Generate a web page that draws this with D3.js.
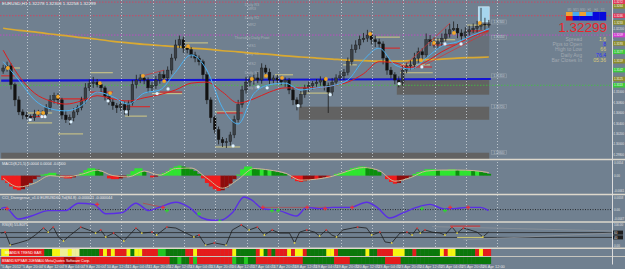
<!DOCTYPE html>
<html>
<head>
<meta charset="utf-8">
<script src="https://cdn.jsdelivr.net/npm/d3@7/dist/d3.min.js"></script>
<style>
  body { margin: 0; background: #708090; }
  svg { display: block; font-family: "Liberation Sans", Arial, sans-serif; }
</style>
</head>
<body>
<svg id="chart" width="625" height="269"></svg>
<script>
// EURUSD H1 in 3-hour steps
const timeLabels = ["5 Apr 2012", "5 Apr 20:00", "6 Apr 12:00", "9 Apr 04:00", "9 Apr 20:00", "10 Apr 12:00",
    "11 Apr 04:00", "11 Apr 20:00", "12 Apr 12:00", "13 Apr 04:00", "13 Apr 20:00", "16 Apr 12:00",
    "17 Apr 04:00", "17 Apr 20:00", "18 Apr 12:00", "19 Apr 04:00", "19 Apr 20:00", "20 Apr 12:00",
    "23 Apr 04:00", "23 Apr 20:00", "24 Apr 12:00", "25 Apr 04:00", "25 Apr 20:00", "26 Apr 12:00"];

const firstOpen = 1.3140;
const closes = [
    1.3146, 1.3150, 1.3114, 1.3085, 1.3062, 1.3056, 1.3053, 1.3051, 1.3058, 1.3060,
    1.3058, 1.3070, 1.3085, 1.3093, 1.3085, 1.3056, 1.3047, 1.3051, 1.3062, 1.3070,
    1.3085, 1.3108, 1.3116, 1.3119, 1.3114, 1.3108, 1.3091, 1.3081, 1.3074, 1.3070,
    1.3076, 1.3066, 1.3079, 1.3114, 1.3123, 1.3127, 1.3123, 1.3108, 1.3112, 1.3123,
    1.3133, 1.3127, 1.3142, 1.3165, 1.3190, 1.3200, 1.3184, 1.3181, 1.3171, 1.3165,
    1.3158, 1.3133, 1.3085, 1.3051, 1.3028, 1.3009, 1.3003, 1.3005, 1.3018, 1.3047,
    1.3076, 1.3104, 1.3119, 1.3123, 1.3127, 1.3123, 1.3146, 1.3138, 1.3123, 1.3127,
    1.3123, 1.3119, 1.3123, 1.3104, 1.3085, 1.3077, 1.3095, 1.3108, 1.3112, 1.3116,
    1.3119, 1.3123, 1.3112, 1.3100, 1.3119, 1.3127, 1.3131, 1.3138, 1.3158, 1.3181,
    1.3190, 1.3200, 1.3203, 1.3209, 1.3200, 1.3196, 1.3192, 1.3165, 1.3142, 1.3133,
    1.3123, 1.3119, 1.3142, 1.3150, 1.3152, 1.3165, 1.3177, 1.3171, 1.3200, 1.3196,
    1.3192, 1.3196, 1.3203, 1.3211, 1.3219, 1.3222, 1.3213, 1.3207, 1.3215, 1.3219,
    1.3222, 1.3226, 1.3230, 1.3228, 1.32299];
// wicks in pips above / below the body
const upWick = [
    6, 8, 5, 4, 7, 5, 6, 4, 8, 6, 5, 7, 9, 6, 5, 4, 8, 6, 7, 5,
    6, 9, 8, 10, 6, 5, 4, 7, 6, 5, 8, 6, 5, 9, 10, 7, 6, 5, 7, 8,
    6, 9, 7, 8, 10, 8, 6, 7, 5, 6, 5, 4, 6, 5, 4, 6, 5, 7, 6, 8,
    9, 8, 10, 7, 6, 11, 9, 6, 7, 5, 6, 8, 5, 4, 6, 5, 7, 6, 8, 5,
    6, 7, 5, 6, 8, 7, 9, 6, 8, 10, 9, 8, 10, 10, 7, 8, 6, 5, 4, 6,
    5, 7, 8, 6, 9, 10, 8, 7, 12, 9, 8, 7, 9, 10, 11, 13, 8, 7, 9, 8,
    9, 10, 31, 12, 8];
const dnWick = [
    5, 7, 9, 12, 6, 8, 5, 7, 6, 5, 8, 6, 5, 7, 9, 8, 6, 10, 7, 6,
    5, 7, 6, 8, 5, 9, 7, 6, 8, 10, 6, 9, 12, 5, 7, 6, 8, 9, 7, 6,
    7, 5, 6, 8, 5, 6, 9, 7, 6, 8, 7, 9, 8, 10, 7, 9, 8, 10, 7, 6,
    5, 6, 7, 8, 9, 6, 7, 10, 8, 6, 7, 6, 9, 8, 10, 12, 7, 6, 8, 7,
    6, 7, 9, 40, 7, 6, 5, 8, 6, 7, 6, 8, 5, 7, 9, 10, 8, 12, 9, 7,
    8, 10, 7, 6, 8, 7, 9, 10, 6, 8, 7, 9, 8, 6, 7, 5, 10, 8, 6, 7,
    6, 8, 7, 9, 5];

// moving averages, one value every 4 bars
const maGold = [1.3222, 1.3218, 1.3215, 1.3211, 1.3208, 1.3204, 1.3201, 1.3197, 1.3194, 1.3191, 1.3189, 1.3187,
    1.3184, 1.3182, 1.3179, 1.3177, 1.3174, 1.3172, 1.3169, 1.3167, 1.3165, 1.3163, 1.3161, 1.3160,
    1.3159, 1.3159, 1.3160, 1.3162, 1.3163, 1.3165, 1.3166, 1.3167];
const maRed = [1.3180, 1.3131, 1.3098, 1.3083, 1.3077, 1.3083, 1.3093, 1.3087, 1.3083, 1.3089, 1.3095, 1.3104,
    1.3117, 1.3119, 1.3100, 1.3079, 1.3087, 1.3100, 1.3108, 1.3108, 1.3108, 1.3112, 1.3119, 1.3135,
    1.3158, 1.3156, 1.3146, 1.3158, 1.3177, 1.3192, 1.3207, 1.3217];
const maBlue = [1.3158, 1.3123, 1.3085, 1.3068, 1.3064, 1.3074, 1.3100, 1.3091, 1.3077, 1.3098, 1.3104, 1.3138,
    1.3171, 1.3142, 1.3070, 1.3039, 1.3097, 1.3114, 1.3117, 1.3104, 1.3108, 1.3112, 1.3123, 1.3161,
    1.3184, 1.3152, 1.3144, 1.3165, 1.3188, 1.3196, 1.3209, 1.3221];
const baseLine = [1.3122, 1.3125];

// daily pivots
const pivotNames = ["Daily R3", "MR3", "Daily R2", "MR2", "Thursday Daily Pivot", "MS1", "Daily S1", "MS2", "Daily S2", "MS3", "Daily S3"];
const pivotPrices = [1.3272, 1.3264, 1.3246, 1.3233, 1.3209, 1.3193, 1.3177, 1.3159, 1.3142, 1.3125, 1.3113];
const pivotKinds = ["r", "m", "r", "m", "p", "m", "s", "m", "s", "m", "s"];
const pivotDrawn = [1, 0, 1, 0, 1, 0, 0, 0, 0, 0, 1];

// supply / demand zones
const zoneStart = [0, 76, 101, 119.2];
const zoneTop = [1.2984, 1.3072, 1.3123, 1.3219];
const zoneBottom = [1.2972, 1.3047, 1.3095, 1.3165];
const zoneLabels = [1.3234, 1.3205, 1.3131, 1.3072, 1.2984];

// short support / resistance segments
const segFrom = [1.7, 0, 22.7, 46.4, 6.8, 6.8, 7.4, 14.5, 14.5, 22.7, 31.1, 31.6, 38.5, 40.5, 54.6, 55.1, 54.6, 76.3, 69.9, 87.3, 95.4, 96.7, 101.8, 101.8, 110, 110, 119, 119, 101.8];
const segTo = [4.8, 3.5, 28.5, 52.8, 13, 13, 11.2, 22.7, 20.9, 28.5, 38, 37.2, 46.2, 46.2, 61, 61.7, 61, 84, 74.5, 90.8, 101.8, 101.8, 109.5, 110, 115.9, 115.9, 124.3, 124.3, 110.2];
const segPrice = [1.3146, 1.3131, 1.3137, 1.3194, 1.3060, 1.3041, 1.3053, 1.3087, 1.3020, 1.3100, 1.3072, 1.3054, 1.3097, 1.3100, 1.3062, 1.3060, 1.2995, 1.3098, 1.3133, 1.3152, 1.3205, 1.3184, 1.3152, 1.3148, 1.3200, 1.3190, 1.3228, 1.3217, 1.3137];
const segKind = "krkkkkrrkrrkkrkrkkkkkrkrkrkrk".split("");

const trendFrom = [36.2, 101.8, 108.2];
const trendFromPrice = [1.3131, 1.3142, 1.3152];
const trendTo = [41.6, 114.6, 124.3];
const trendToPrice = [1.3142, 1.3232, 1.3215];

const upFracBar = [1.7, 9.4, 10.7, 14.5, 25.2, 27.8, 36.2, 41.6, 47.7, 64, 67.6, 71.7, 82.9, 94.2, 107.2, 110.5, 115.6, 122.2];
const upFracPrice = [1.3146, 1.3060, 1.3060, 1.3091, 1.3117, 1.3098, 1.3131, 1.3121, 1.3188, 1.3125, 1.3131, 1.3127, 1.3125, 1.3211, 1.3161, 1.3194, 1.3213, 1.3232];
const dnFracBar = [7.4, 10.4, 11.2, 17.8, 27.3, 31.9, 39.8, 42.6, 59.2, 65.6, 67.9, 75.8, 84, 101.6, 107.4, 113.3, 117.4];
const dnFracPrice = [1.3047, 1.3053, 1.3053, 1.3043, 1.3083, 1.3062, 1.3097, 1.3106, 1.2997, 1.3110, 1.3108, 1.3074, 1.3095, 1.3116, 1.3148, 1.3192, 1.3192];

const priceTicks = [1.3260, 1.3240, 1.3220, 1.3200, 1.3180, 1.3160, 1.3140, 1.3120, 1.3100, 1.3080, 1.3060, 1.3040, 1.3020, 1.3000, 1.2980];

// MACD histogram (units of 0.0001) and its signal every 4 bars
const macd = [
    -18, -29, -43, -54, -58, -54, -43, -29, -14, -4, 4, 7, 11, 11, 4, -7, -11, -11, -7, 1,
    11, 22, 29, 29, 25, 14, 0, -11, -14, -14, -11, -7, 4, 18, 29, 29, 18, 0, -7, -4,
    4, 11, 18, 29, 36, 40, 36, 32, 25, 18, 7, -11, -29, -43, -54, -61, -58, -47, -32, -14,
    4, 25, 36, 36, 29, 25, 25, 22, 22, 18, 14, 11, 7, 0, -11, -22, -25, -22, -18, -14,
    -14, -11, -7, -7, 0, 7, 11, 14, 22, 29, 32, 36, 36, 32, 29, 22, 14, 0, -14, -25,
    -32, -29, -18, -11, -4, 7, 14, 18, 25, 25, 25, 22, 22, 22, 25, 25, 22, 22, 22, 22,
    18, 18, 14, 11, 7];
const macdSignal = [-10, -45, -30, 0, -5, 5, 22, 0, -5, 18, 2, 28, 30, -10, -50, -15, 28, 22, 10, -18, -14, -3, 18, 32, 20, -22, -8, 18, 22, 22, 20, 12];

// CCI divergence (units of 0.0001)
const cciBar = [0, 1, 4.4, 7.7, 12, 16.4, 19.7, 23.6, 26.7, 30.8, 34.4, 37.7, 40.3, 44.6, 48, 51.3, 53.8, 56, 59, 62,
    64, 66.7, 71, 75.4, 78, 81.3, 84.6, 89, 93.3, 96, 99.2, 102.6, 106, 109.5, 112.8, 115.4, 119, 122.3, 124.4];
const cciValue = [5, 11, -47, -32, -5, -5, 32, 26, -21, -16, 32, -5, 11, 37, 11, -42, -53, -53, -16, 63,
    47, 5, -5, -32, 11, 5, 11, 11, 37, 11, -42, -16, 11, 26, 5, 5, 11, 11, -5];
const cciRedBar = [1.5, 24.5, 41.3, 66.8, 78.1, 82.7, 89.6, 114.6, 119.2];
const cciRedValue = [5, 26, 11, 11, 11, 5, 11, 11, 11];
const cciGreenBar = [42.3, 50.5, 55.8, 69.1, 70.7, 107.4, 113.3];
const cciGreenValue = [-5, -21, -58, -5, -5, 5, -5];

// RSI
const rsiBar = [0, 1, 2.3, 4.4, 6.9, 8.7, 10.8, 12, 13.3, 14.6, 15.9, 17.7, 20.3, 22.3, 24.1, 25.4, 26.7, 28.7, 31.3, 34.4,
    35.9, 38.5, 39.7, 42.3, 44.6, 47.2, 49.2, 50.5, 51.3, 52.2, 54.4, 57.4, 59, 61.3, 63.3, 65.4, 67.2, 69.2, 71, 73.6,
    74.9, 76.2, 78, 80, 81.3, 83, 84.4, 85.6, 87.2, 89.7, 91, 93.3, 94.6, 96.7, 98, 99.7, 101.8, 103.6, 104.9, 106.2,
    107, 108.2, 110, 112, 113.3, 115.1, 116.4, 118, 119.7, 121.5, 123, 124.4];
const rsiValue = [58, 62, 8, 17, 29, 50, 79, 62, 83, 42, 25, 50, 83, 71, 58, 71, 42, 58, 25, 79,
    58, 62, 50, 83, 79, 58, 42, 50, 29, 8, 17, 8, 71, 92, 71, 83, 50, 71, 58, 58,
    17, 62, 71, 62, 46, 71, 50, 42, 71, 79, 83, 79, 50, 62, 21, 17, 58, 62, 50, 79,
    58, 71, 62, 58, 50, 83, 58, 79, 71, 62, 42, 62];
const rsiLevels = [60, 40];

// trend bars, one code per candle
const trendRow1 = ["YY", "RRRRRRRRR", "gg", "YYyyYyy", "ggggg", "R", "Y", "R", "Y", "RRR", "YgYY", "RRRR", "GG",
    "ggggg", "RR", "Y", "RRRRRRRRR", "Y", "ggggg", "R", "Y", "gRg", "RRR", "YRYYR", "ggggg", "YY", "R",
    "ggggg", "ggYgg", "RRRR", "YYY", "gg", "R", "gggggg", "YRY", "Y", "ggggg", "RYRR"].join("").split("");
const trendRow2 = ["RRRRRRRRRRRRRRRR", "rrr", "RRRRRRRRRRRRRRRRRRRRRRRR", "ggGgg", "RGR", "RRRRRRRR", "GggGgg",
    "RRRRRRRRRRRR", "gggggggg", "RRRR", "ggggggggg", "RRRR", "ggggggggggggggggggggggg"].join("").split("");

// info box
const infoLabels = ["Spread", "Pips to Open", "High to Low", "Daily Avg", "Bar Closes In"];
const infoValues = ["1.6", "8", "66", "76.4", "05:36"];
const tfNames = ["M5", "M15", "M30", "H1", "H4", "D1"];
const tfTrend = ["o", "l", "o", "l", "b", "b"];
const tfSignal = ["r", "b", "b", "b", "b", "b"];

// ---------------------------------------------------------------
const svg = d3.select('#chart');
const AX = 612;
const xBar = d3.scaleLinear().domain([0, 125]).range([1.2, 490.8]);
const xHour = d3.scaleLinear().domain([0, 375]).range([1.2, 490.8]);
const yP = d3.scaleLinear().domain([1.2972, 1.3276]).range([159, 0]);
const yMacd = d3.scaleLinear().domain([-61, 54]).range([191, 162]);
const yCci = d3.scaleLinear().domain([-47, 58]).range([219, 198]);
const yRsi = d3.scaleLinear().domain([0, 100]).range([247, 223]);
const bw = xBar(1) - xBar(0);
const f4 = d3.format('.4f'), f5 = d3.format('.5f');

svg.append('rect').attr('width', 625).attr('height', 269).attr('fill', '#708090');

svg.append('clipPath').attr('id', 'mainClip')
    .append('rect').attr('width', AX).attr('height', 159);
const main = svg.append('g').attr('clip-path', 'url(#mainClip)');

// zones
main.selectAll('rect.zone').data(zoneStart).join('rect')
    .attr('class', 'zone')
    .attr('x', d => xBar(d))
    .attr('width', d => xBar(124.6) - xBar(d))
    .attr('y', (d, i) => yP(zoneTop[i]))
    .attr('height', (d, i) => yP(zoneBottom[i]) - yP(zoneTop[i]))
    .attr('fill', (d, i) => i === 3 ? '#67707a' : '#626262');

// day separators
const daySeps = d3.range(16).map(k => 20 + 24 * k);
svg.append('g').selectAll('line').data(daySeps).join('line')
    .attr('x1', h => Math.round(xHour(h)) + 0.5).attr('x2', h => Math.round(xHour(h)) + 0.5)
    .attr('y1', 0).attr('y2', 248)
    .attr('stroke', '#cfd5dc').attr('stroke-width', 0.8).attr('stroke-dasharray', '1,2');

// pivot lines
const pivotColor = { r: '#e03a5a', m: '#8c8c2c', p: '#d040d0', s: '#3cc83c' };
main.selectAll('line.piv').data(pivotPrices.filter((p, i) => pivotDrawn[i])).join('line')
    .attr('x1', 0).attr('x2', AX)
    .attr('y1', p => yP(p)).attr('y2', p => yP(p))
    .attr('stroke', p => pivotColor[pivotKinds[pivotPrices.indexOf(p)]])
    .attr('stroke-width', 0.8).attr('stroke-dasharray', '1.5,1.5');
main.selectAll('text.piv').data(pivotNames).join('text')
    .attr('x', xBar(64)).attr('y', (d, i) => yP(pivotPrices[i]) + 3.6)
    .attr('text-anchor', 'middle').attr('font-size', 3.8).attr('fill', '#a3acb6')
    .text(d => d);

// current-bar box
main.append('rect')
    .attr('x', xBar(121.8)).attr('width', xBar(124.6) - xBar(121.8))
    .attr('y', yP(1.3263)).attr('height', yP(1.3234) - yP(1.3263))
    .attr('fill', '#a6d6ee').attr('stroke', '#d6ecf8').attr('stroke-width', 0.6);

// 200 MA and base line
const maLine = d3.line().x((d, k) => xBar(k * 4 + 0.5)).y(d => yP(d)).curve(d3.curveMonotoneX);
main.append('path').attr('d', maLine(maGold)).attr('fill', 'none').attr('stroke', '#d9a932').attr('stroke-width', 1.7);
main.append('path')
    .attr('d', d3.line().x((d, k) => xBar(k * 125)).y(d => yP(d))(baseLine))
    .attr('fill', 'none').attr('stroke', '#1414d2').attr('stroke-width', 2.2);

// S/R segments
main.selectAll('line.seg').data(segFrom).join('line')
    .attr('x1', d => xBar(d)).attr('x2', (d, i) => xBar(segTo[i]))
    .attr('y1', (d, i) => yP(segPrice[i])).attr('y2', (d, i) => yP(segPrice[i]))
    .attr('stroke', (d, i) => segKind[i] === 'r' ? '#d82828' : '#cbc486')
    .attr('stroke-width', 1.1);

// candles
const candles = closes.map((c, i) => {
    const o = i ? closes[i - 1] : firstOpen;
    return { i, o, c, h: Math.max(o, c) + upWick[i] * 1e-4, l: Math.min(o, c) - dnWick[i] * 1e-4 };
});
const cg = main.append('g');
cg.selectAll('line').data(candles).join('line')
    .attr('x1', d => xBar(d.i + 0.5)).attr('x2', d => xBar(d.i + 0.5))
    .attr('y1', d => yP(d.h)).attr('y2', d => yP(d.l))
    .attr('stroke', '#1c1c1c').attr('stroke-width', 0.8);
cg.selectAll('rect').data(candles).join('rect')
    .attr('x', d => xBar(d.i) + 0.6).attr('width', bw - 1.2)
    .attr('y', d => yP(Math.max(d.o, d.c)))
    .attr('height', d => Math.max(0.8, Math.abs(yP(d.o) - yP(d.c))))
    .attr('fill', d => d.c >= d.o ? '#3a4046' : '#121212')
    .attr('stroke', '#1c1c1c').attr('stroke-width', 0.4);

// moving averages
main.append('path').attr('d', maLine(maRed)).attr('fill', 'none').attr('stroke', '#dc1e1e').attr('stroke-width', 1);
main.append('path').attr('d', maLine(maBlue)).attr('fill', 'none').attr('stroke', '#4cb2f2').attr('stroke-width', 1);

// trend lines
main.selectAll('line.tr').data(trendFrom).join('line')
    .attr('x1', d => xBar(d)).attr('y1', (d, i) => yP(trendFromPrice[i]))
    .attr('x2', (d, i) => xBar(trendTo[i])).attr('y2', (d, i) => yP(trendToPrice[i]))
    .attr('stroke', '#d83030').attr('stroke-width', 0.7);

// fractals
main.selectAll('circle.up').data(upFracBar).join('circle')
    .attr('cx', d => xBar(d)).attr('cy', (d, i) => yP(upFracPrice[i])).attr('r', 1.9)
    .attr('fill', '#f2a628');
main.selectAll('circle.dn').data(dnFracBar).join('circle')
    .attr('cx', d => xBar(d)).attr('cy', (d, i) => yP(dnFracPrice[i])).attr('r', 1.6)
    .attr('fill', '#dff2ff');

// zone price tags
svg.selectAll('g.ztag').data(zoneLabels).join('g').attr('class', 'ztag')
    .each(function (p) {
        const g = d3.select(this);
        g.append('rect').attr('x', 491.5).attr('y', yP(p) - 2).attr('width', 15).attr('height', 4)
            .attr('fill', 'none').attr('stroke', '#9aa4ae').attr('stroke-width', 0.5);
        g.append('text').attr('x', 499).attr('y', yP(p) + 1.2).attr('text-anchor', 'middle')
            .attr('font-size', 3).attr('fill', '#c4ccd4').text(f5(p));
    });

// title
svg.append('text').attr('x', 2).attr('y', 5.2).attr('font-size', 4.4).attr('fill', '#f0f0f0')
    .text('EURUSD,H1  1.32278 1.32303 1.32258 1.32299');

// ---------------- lower panels ----------------
// MACD
const macdG = svg.append('g');
macdG.selectAll('rect').data(macd).join('rect')
    .attr('x', (d, i) => xBar(i)).attr('width', bw + 0.3)
    .attr('y', d => yMacd(Math.max(0, d)))
    .attr('height', d => Math.abs(yMacd(d) - yMacd(0)))
    .attr('fill', (d, i) => {
        const prev = i ? macd[i - 1] : d;
        if (d >= 0) return d >= prev ? '#2ee62e' : '#0b8f0b';
        return d <= prev ? '#f01c1c' : '#8e0c0c';
    });
macdG.append('path')
    .attr('d', d3.line().x((d, k) => xBar(k * 4 + 0.5)).y(d => yMacd(d)).curve(d3.curveMonotoneX)(macdSignal))
    .attr('fill', 'none').attr('stroke', '#cdb894').attr('stroke-width', 1);
svg.append('text').attr('x', 2).attr('y', 164.5).attr('font-size', 3.8).attr('fill', '#ececec')
    .text('MACD(8,21,5) 0.0004 0.0004 -0.0000');

// CCI divergence
svg.append('line').attr('x1', 0).attr('x2', AX).attr('y1', yCci(0)).attr('y2', yCci(0))
    .attr('stroke', '#151515').attr('stroke-width', 0.8).attr('stroke-dasharray', '1,1.5');
svg.append('line')
    .attr('x1', xBar(36.2)).attr('y1', yCci(32)).attr('x2', xBar(41.3)).attr('y2', yCci(11))
    .attr('stroke', '#d03030').attr('stroke-width', 0.6);
svg.append('line')
    .attr('x1', xBar(66.8)).attr('y1', yCci(11)).attr('x2', xBar(89.6)).attr('y2', yCci(11))
    .attr('stroke', '#d03030').attr('stroke-width', 0.5);
svg.append('path')
    .attr('d', d3.line().x(d => xBar(d)).y((d, i) => yCci(cciValue[i])).curve(d3.curveMonotoneX)(cciBar))
    .attr('fill', 'none').attr('stroke', '#5a2ee6').attr('stroke-width', 1.4);
const cross = (g, bars, vals, color) => g.selectAll(null).data(bars).join('path')
    .attr('d', (d, i) => {
        const x = xBar(d), y = yCci(vals[i]);
        return `M${x - 2},${y}H${x + 2}M${x},${y - 2}V${y + 2}`;
    })
    .attr('stroke', color).attr('stroke-width', 1.2);
cross(svg.append('g'), cciRedBar, cciRedValue, '#e8303c');
cross(svg.append('g'), cciGreenBar, cciGreenValue, '#2ed22e');
svg.append('text').attr('x', 2).attr('y', 199).attr('font-size', 3.8).attr('fill', '#ececec')
    .text('CCI_Divergence_v1.0 EURUSD60,Tol(84.8) -0.000011 -0.000044');

// RSI
svg.selectAll('line.rl').data(rsiLevels).join('line')
    .attr('x1', 0).attr('x2', AX).attr('y1', d => yRsi(d)).attr('y2', d => yRsi(d))
    .attr('stroke', '#262626').attr('stroke-width', 0.8);
svg.append('line').attr('x1', xBar(110)).attr('y1', yRsi(85)).attr('x2', AX).attr('y2', yRsi(67))
    .attr('stroke', '#8d939a').attr('stroke-width', 0.8);
svg.append('line').attr('x1', xBar(118)).attr('y1', yRsi(30)).attr('x2', AX).attr('y2', yRsi(58))
    .attr('stroke', '#8d939a').attr('stroke-width', 0.8);
svg.append('line').attr('x1', xBar(114.6)).attr('y1', yRsi(87)).attr('x2', xBar(122.3)).attr('y2', yRsi(87))
    .attr('stroke', '#d83030').attr('stroke-width', 1);
svg.append('line').attr('x1', xBar(116.4)).attr('y1', yRsi(40)).attr('x2', xBar(123)).attr('y2', yRsi(40))
    .attr('stroke', '#d8d070').attr('stroke-width', 1);
svg.append('path')
    .attr('d', d3.line().x(d => xBar(d)).y((d, i) => yRsi(rsiValue[i]))(rsiBar))
    .attr('fill', 'none').attr('stroke', '#1e1e1e').attr('stroke-width', 0.8);
svg.append('g').selectAll('circle').data(rsiBar).join('circle')
    .filter((d, i) => i > 0 && i < rsiBar.length - 1 &&
        ((rsiValue[i] > rsiValue[i - 1] && rsiValue[i] > rsiValue[i + 1]) ||
         (rsiValue[i] < rsiValue[i - 1] && rsiValue[i] < rsiValue[i + 1])))
    .attr('cx', d => xBar(d)).attr('cy', d => yRsi(rsiValue[rsiBar.indexOf(d)])).attr('r', 0.9)
    .attr('fill', d => { const i = rsiBar.indexOf(d); return rsiValue[i] > rsiValue[i - 1] ? '#e23a3a' : '#e8d84a'; });
svg.append('text').attr('x', 2).attr('y', 226).attr('font-size', 3.8).attr('fill', '#ececec')
    .text('RSI(8) 55.8075');

// trend bars
const cellColor = { R: '#e41c1c', r: '#a80c0c', G: '#22c822', g: '#0b780b', Y: '#f6f612', y: '#eeee9a' };
[trendRow1, trendRow2].forEach((row, k) => {
    svg.append('g').selectAll('rect').data(row).join('rect')
        .attr('x', (d, i) => xBar(i)).attr('width', bw + 0.3)
        .attr('y', 249 + k * 8).attr('height', 7)
        .attr('fill', d => cellColor[d]);
});
svg.append('text').attr('x', 5).attr('y', 254).attr('font-size', 3.6).attr('fill', '#ffffff')
    .text('BBANDS TREND BAR');
svg.append('text').attr('x', 2).attr('y', 262).attr('font-size', 3.6).attr('fill', '#ffffff')
    .text('BBANDS/PSAR 20EMA00 MetaQuotes Software Corp.');

// panel separators
svg.selectAll('line.sep').data([159.5, 194.5, 222, 248.2, 256.5]).join('line')
    .attr('x1', 0).attr('x2', 625).attr('y1', d => d).attr('y2', d => d)
    .attr('stroke', '#ddd8cc').attr('stroke-width', d => d > 256 ? 0.8 : 1.4);

// right axis
svg.append('line').attr('x1', AX + 0.5).attr('x2', AX + 0.5).attr('y1', 0).attr('y2', 264.5)
    .attr('stroke', '#dcdcdc').attr('stroke-width', 1);
// price labels hidden where a pivot tag sits on top of them
const freeTicks = priceTicks.filter(t => pivotPrices.every(p => Math.abs(yP(p) - yP(t)) > 5));
svg.selectAll('text.pt').data(freeTicks).join('text')
    .attr('x', 613.6).attr('y', d => yP(d) + 1.1).attr('font-size', 2.9).attr('fill', '#e2e2e2')
    .text(d => f5(d));
svg.selectAll('line.ptk').data(priceTicks).join('line')
    .attr('x1', AX).attr('x2', AX + 1.5).attr('y1', d => yP(d)).attr('y2', d => yP(d))
    .attr('stroke', '#dcdcdc').attr('stroke-width', 0.6);
svg.selectAll('g.pbox').data(pivotPrices).join('g').attr('class', 'pbox')
    .each(function (p, i) {
        const g = d3.select(this);
        g.append('rect').attr('x', AX + 1).attr('y', yP(p) - 2.3).attr('width', 12).attr('height', 4.6)
            .attr('fill', pivotColor[pivotKinds[i]]);
        g.append('text').attr('x', AX + 2).attr('y', yP(p) + 1.1).attr('font-size', 2.9)
            .attr('fill', '#f6f6f6').text(f4(p));
    });
const sideLabels = [
    { y: 163.5, t: '0.0054' }, { y: yMacd(0) + 1, t: '0.00' }, { y: 192, t: '-0.0061' },
    { y: 198.5, t: '0.0058' }, { y: yCci(0) + 1, t: '0.00' }, { y: 220, t: '-0.0047' },
    { y: 226, t: '100.00' }, { y: 246.5, t: '0.00' }];
svg.selectAll('text.sl').data(sideLabels).join('text')
    .attr('x', 614).attr('y', d => d.y).attr('font-size', 3).attr('fill', '#e2e2e2').text(d => d.t);
rsiLevels.forEach(v => {
    svg.append('rect').attr('x', AX + 1).attr('y', yRsi(v) - 2).attr('width', 10).attr('height', 4).attr('fill', '#1e1e1e');
    svg.append('text').attr('x', AX + 2).attr('y', yRsi(v) + 1.1).attr('font-size', 3).attr('fill', '#f0f0f0').text(v);
});

// time axis
svg.selectAll('text.tl').data(timeLabels).join('text')
    .attr('x', (d, k) => xHour(16 * k) + 1).attr('y', 268.4)
    .attr('font-size', 3.9).attr('fill', '#e8e8e8').text(d => d);
svg.selectAll('line.tt').data(timeLabels).join('line')
    .attr('x1', (d, k) => xHour(16 * k)).attr('x2', (d, k) => xHour(16 * k))
    .attr('y1', 264.5).attr('y2', 266).attr('stroke', '#e0e0e0').attr('stroke-width', 0.5);

// info box
const info = svg.append('g');
const tfColor = { o: '#f0a232', l: '#46a8f2', b: '#0808dc', r: '#e01414' };
const cellW = 40 / tfNames.length;
info.selectAll('text.tf').data(tfNames).join('text')
    .attr('x', (d, i) => 566 + cellW * (i + 0.5)).attr('y', 10.6).attr('text-anchor', 'middle')
    .attr('font-size', 2.8).attr('fill', '#a8b0b8').text(d => d);
info.selectAll('rect.t1').data(tfTrend).join('rect')
    .attr('x', (d, i) => 566 + cellW * i).attr('width', cellW + 0.2).attr('y', 12).attr('height', 4)
    .attr('fill', d => tfColor[d]);
info.selectAll('rect.t2').data(tfSignal).join('rect')
    .attr('x', (d, i) => 566 + cellW * i).attr('width', cellW + 0.2).attr('y', 16).attr('height', 4.5)
    .attr('fill', d => tfColor[d]);
info.append('text').attr('x', 607).attr('y', 32.3).attr('text-anchor', 'end')
    .attr('font-size', 13.5).attr('fill', '#e8252b').text(f5(closes[closes.length - 1]));
const valColor = ['#dccb7c', '#2c2cff', '#dccb7c', '#2c2cff', '#dccb7c'];
info.selectAll('text.il').data(infoLabels).join('text')
    .attr('x', 582).attr('y', (d, i) => 40.6 + i * 5.4).attr('text-anchor', 'end')
    .attr('font-size', 5.1).attr('fill', '#a2aab2').text(d => d);
info.selectAll('text.iv').data(infoValues).join('text')
    .attr('x', 606).attr('y', (d, i) => 40.6 + i * 5.4).attr('text-anchor', 'end')
    .attr('font-size', 5.1).attr('fill', (d, i) => valColor[i]).text(d => d);
</script>
</body>
</html>
